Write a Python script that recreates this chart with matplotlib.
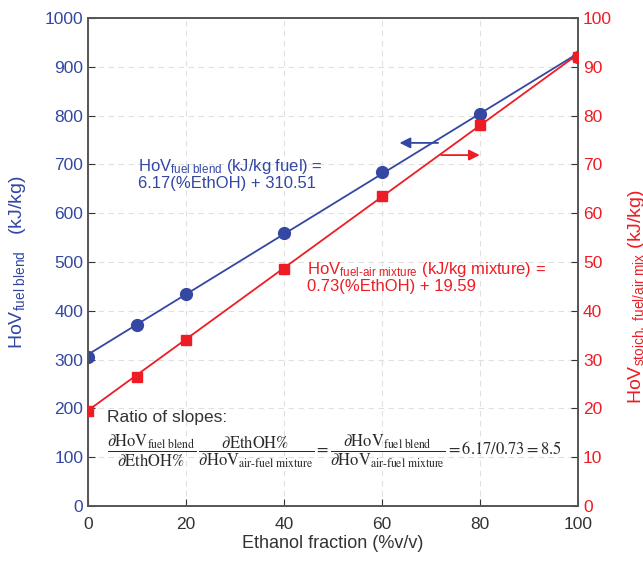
import matplotlib.pyplot as plt
import numpy as np

plt.rcParams['font.family'] = ['Liberation Sans', 'DejaVu Sans']
plt.rcParams['mathtext.fontset'] = 'custom'
plt.rcParams['mathtext.rm'] = 'Liberation Sans'
plt.rcParams['mathtext.it'] = 'Liberation Sans:italic'
plt.rcParams['mathtext.bf'] = 'Liberation Sans:bold'

blue = '#3347a3'
red = '#ee1c24'
grey = '#333333'

# data
ethanol = [0, 10, 20, 40, 60, 80, 100]
hov_blend = [305, 370, 435, 560, 685, 803, 920]
hov_mix = [19.5, 26.5, 34, 48.5, 63.5, 78, 92]

# linear fits given in the annotations
blend_fit = (6.17, 310.51)
mix_fit = (0.73, 19.59)

fig = plt.figure(figsize=(6.43, 5.61), dpi=100)
ax = fig.add_axes([0.137, 0.098, 0.762, 0.870])
ax2 = ax.twinx()

xs = np.array([0, 100])
ax.plot(xs, blend_fit[0] * xs + blend_fit[1], color=blue, lw=1.3, zorder=3)
ax.plot(ethanol, hov_blend, 'o', color=blue, ms=8.5, zorder=4)
ax2.plot(xs, mix_fit[0] * xs + mix_fit[1], color=red, lw=1.3, zorder=3)
ax2.plot(ethanol, hov_mix, 's', color=red, ms=7.5, zorder=4)

ax.set_xlim(0, 100)
ax.set_ylim(0, 1000)
ax2.set_ylim(0, 100)
ax.set_xticks(range(0, 101, 20))
ax.set_yticks(range(0, 1001, 100))
ax2.set_yticks(range(0, 101, 10))

ax.grid(True, ls=(0, (5, 4)), color='#e0e0e0', lw=0.8)
ax.set_axisbelow(True)

for a in (ax, ax2):
    for s in a.spines.values():
        s.set_color('#555555')
        s.set_linewidth(1.2)
ax.tick_params(axis='both', direction='in', length=5, labelsize=12.5, colors=grey)
ax.tick_params(axis='x', pad=8)
ax.tick_params(axis='y', labelcolor=blue)
ax2.tick_params(axis='y', direction='in', length=5, labelsize=12.5, colors=grey, labelcolor=red)

ax.set_xlabel('Ethanol fraction (%v/v)', fontsize=13, color=grey, labelpad=2)
ax.set_ylabel(r'HoV$_{\mathrm{fuel\ blend}}$   (kJ/kg)', fontsize=14, color=blue, labelpad=12)
ax2.set_ylabel(r'HoV$_{\mathrm{stoich.\ fuel/air\ mix}}$ (kJ/kg)', fontsize=14, color=red, rotation=90)
ax2.yaxis.set_label_coords(1.098, 0.43)

ax.text(10.2, 715, r'HoV$_{\mathrm{fuel\ blend}}$ (kJ/kg fuel) =' + '\n6.17(%EthOH) + 310.51',
        color=blue, fontsize=12, va='top', linespacing=1.0)
ax.text(44.7, 505, r'HoV$_{\mathrm{fuel}\text{-}\mathrm{air\ mixture}}$ (kJ/kg mixture) =' + '\n0.73(%EthOH) + 19.59',
        color=red, fontsize=12, va='top', linespacing=1.0)

ax.annotate('', xy=(63, 744), xytext=(72, 744),
            arrowprops=dict(arrowstyle='-|>', color=blue, lw=1.3, mutation_scale=16))
ax.annotate('', xy=(80.5, 719), xytext=(71.5, 719),
            arrowprops=dict(arrowstyle='-|>', color=red, lw=1.3, mutation_scale=16))

ax.text(3.9, 182, 'Ratio of slopes:', fontsize=12.5, color=grey, va='center')
formula = (r'$\dfrac{\partial\mathrm{HoV}_{\mathrm{fuel\ blend}}}{\partial\mathrm{EthOH\%}}\,'
           r'\dfrac{\partial\mathrm{EthOH\%}}{\partial\mathrm{HoV}_{\mathrm{air}\text{-}\mathrm{fuel\ mixture}}}'
           r'=\dfrac{\partial\mathrm{HoV}_{\mathrm{fuel\ blend}}}{\partial\mathrm{HoV}_{\mathrm{air}\text{-}\mathrm{fuel\ mixture}}}'
           r'=6.17/0.73=8.5$')
ax.text(3.9, 112, formula, fontsize=11.9, color='#2a2a2a', va='center', math_fontfamily='stix')

fig.savefig('out.png', dpi=100)
